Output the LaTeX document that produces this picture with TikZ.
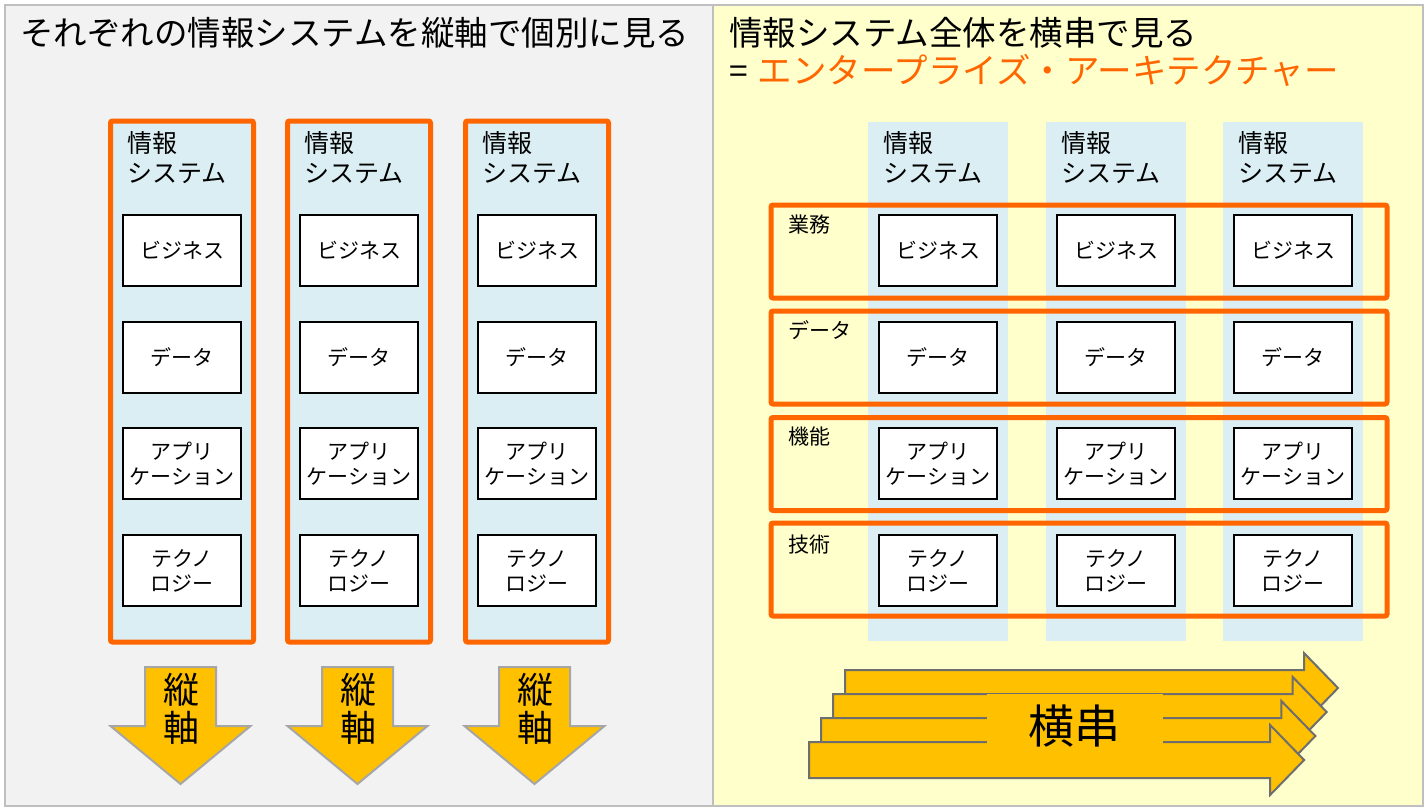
\documentclass[tikz,border=0pt]{standalone}
\usepackage{fontspec}
\setmainfont{Noto Sans CJK JP}
\definecolor{lgray}{HTML}{F2F2F2}
\definecolor{lyellow}{HTML}{FFFFCC}
\definecolor{pborder}{HTML}{BFBFBF}
\definecolor{eaorange}{HTML}{FF6600}
\definecolor{lblue}{HTML}{DAEEF3}
\definecolor{arrowfill}{HTML}{FFC000}
\definecolor{arrowline}{HTML}{A6A6A6}
\definecolor{harrowline}{HTML}{6E6E6E}
\tikzset{
  panel/.style={draw=pborder, line width=2},
  sysframe/.style={draw=eaorange, line width=5, fill=lblue, rounded corners=2, minimum width=143, minimum height=521, inner sep=0},
  bluecol/.style={fill=lblue, minimum width=140, minimum height=519, inner sep=0},
  rowframe/.style={draw=eaorange, line width=5, rounded corners=2, minimum width=616, minimum height=93, inner sep=0},
  layerbox/.style={draw=black, line width=2, fill=white, minimum width=118, minimum height=71, inner sep=0, align=center, font=\fontsize{21}{25}\selectfont},
  syslabel/.style={anchor=west, inner sep=0, font=\fontsize{25}{30}\selectfont},
  rowlabel/.style={anchor=west, inner sep=0, font=\fontsize{21}{25}\selectfont},
  titletext/.style={anchor=west, inner sep=0, font=\fontsize{33.5}{37}\selectfont},
  downarrow/.style={fill=arrowfill, draw=arrowline, line width=2},
  rightarrow/.style={fill=arrowfill, draw=harrowline, line width=2},
  axistext/.style={inner sep=0, font=\fontsize{36}{38}\selectfont},
}
\begin{document}
\begin{tikzpicture}[x=1pt,y=-1pt]
\useasboundingbox (0,0) rectangle (1425,808);
% panels
\fill[lgray] (5,5) rectangle (713,806);
\fill[lyellow] (713,5) rectangle (1423,806);
\draw[panel] (5,5) rectangle (1423,806);
\draw[panel] (713,5) -- (713,806);
% titles
\node[titletext] (tl) at (20,33) {それぞれの情報システムを縦軸で個別に見る};
\node[titletext] (tr1) at (729,33) {情報システム全体を横串で見る};
\node[titletext] (tr2) at (729,70) {=\hspace{10pt}{\fontsize{34.5}{37}\selectfont\textcolor{eaorange}{エンタープライズ・アーキテクチャー}}};
% left columns
\foreach \c/\n in {182/1,359/2,537/3}{
  \node[sysframe] (sf\n) at (\c,381.5) {};
  \node[syslabel] (sl\n a) at (\c-55,143) {情報};
  \node[syslabel] (sl\n b) at (\c-55,173) {システム};
  \node[layerbox] (lb\n) at (\c,250.5) {ビジネス};
  \node[layerbox] (ld\n) at (\c,357.5) {データ};
  \node[layerbox] (la\n) at (\c,463.5) {アプリ\\ケーション};
  \node[layerbox] (lt\n) at (\c,570.5) {テクノ\\ロジー};
}
% down arrows
\foreach \c/\n in {180.5/1,357.5/2,534.5/3}{
  \draw[downarrow] (\c-35.5,667) -- (\c+35.5,667) -- (\c+35.5,726) -- (\c+70,726) -- (\c,784) -- (\c-70,726) -- (\c-35.5,726) -- cycle;
  \node[axistext] (ax\n a) at (\c+1,690) {縦};
  \node[axistext] (ax\n b) at (\c+1,728) {軸};
}
% right columns
\foreach \c/\n in {938/1,1116/2,1293/3}{
  \node[bluecol] (bc\n) at (\c,381.5) {};
  \node[syslabel] (rl\n a) at (\c-55,143) {情報};
  \node[syslabel] (rl\n b) at (\c-55,173) {システム};
}
% row frames
\node[rowframe] (rf1) at (1079,251.5) {};
\node[rowframe] (rf2) at (1079,357.5) {};
\node[rowframe] (rf3) at (1079,464) {};
\node[rowframe] (rf4) at (1079,569.5) {};
\node[rowlabel] (rw1) at (788,225) {業務};
\node[rowlabel] (rw2) at (788,330) {データ};
\node[rowlabel] (rw3) at (788,437) {機能};
\node[rowlabel] (rw4) at (788,545) {技術};
\foreach \c/\n in {938/1,1116/2,1293/3}{
  \node[layerbox] (rb\n) at (\c,250.5) {ビジネス};
  \node[layerbox] (rd\n) at (\c,357.5) {データ};
  \node[layerbox] (ra\n) at (\c,463.5) {アプリ\\ケーション};
  \node[layerbox] (rt\n) at (\c,570.5) {テクノ\\ロジー};
}
% horizontal arrows (back to front)
\foreach \i in {0,1,2,3}{
  \pgfmathsetmacro{\L}{845-12*\i}
  \pgfmathsetmacro{\T}{670+24*\i}
  \pgfmathsetmacro{\B}{\T+36}
  \pgfmathsetmacro{\R}{1304-11.3*\i}
  \pgfmathsetmacro{\Ht}{\T-17}
  \pgfmathsetmacro{\Hb}{\B+17}
  \pgfmathsetmacro{\M}{\T+18}
  \pgfmathsetmacro{\X}{\R+34}
  \draw[rightarrow] (\L,\T) -- (\R,\T) -- (\R,\Ht) -- (\X,\M) -- (\R,\Hb) -- (\R,\B) -- (\L,\B) -- cycle;
}
\fill[arrowfill] (987,694) rectangle (1163,746);
\node[inner sep=0, font=\fontsize{46}{48}\selectfont] (yokogushi) at (1074,726) {横串};
\end{tikzpicture}
\end{document}
